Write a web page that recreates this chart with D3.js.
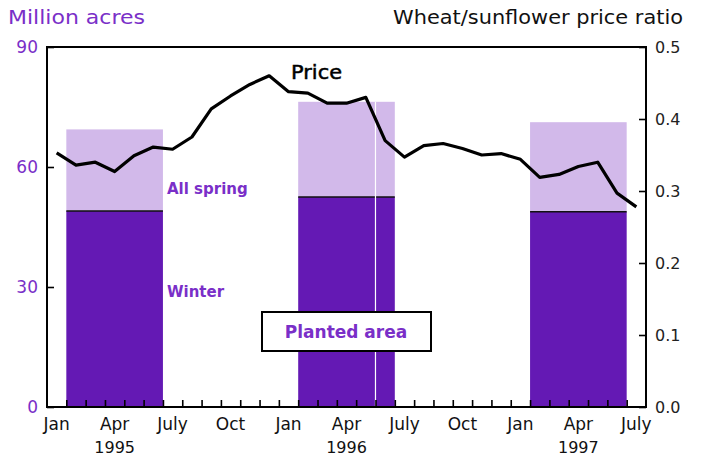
<!DOCTYPE html>
<html>
<head>
<meta charset="utf-8">
<script src="https://cdn.jsdelivr.net/npm/d3@7"></script>
<style>
  body { margin: 0; background: #fff; }
  text { font-family: "DejaVu Sans", sans-serif; }
</style>
</head>
<body>
<svg id="chart" width="701" height="459"></svg>
<script>
// planted area, million acres (winter + all spring = total)
var years = [1995, 1996, 1997]
var winterArea = [49.0, 52.5, 48.8]
var springArea = [20.4, 23.8, 22.4]
// bar spans in month index from Jan 1995 (start, end)
var barStart = [1, 13, 25]
var barEnd = [6, 18, 30]

// wheat/sunflower price ratio, monthly Jan 1995 - Jul 1997
var priceRatio = [0.353, 0.336, 0.340, 0.327, 0.349, 0.361, 0.358, 0.375, 0.414, 0.432, 0.448, 0.460,
                  0.438, 0.436, 0.422, 0.422, 0.430, 0.370, 0.347, 0.363, 0.366, 0.359, 0.350, 0.352,
                  0.344, 0.319, 0.323, 0.334, 0.340, 0.297, 0.278]

var monthLabels = ['Jan', 'Apr', 'July', 'Oct', 'Jan', 'Apr', 'July', 'Oct', 'Jan', 'Apr', 'July']
var leftTicks = [0, 30, 60, 90]
var rightTicks = [0, 0.1, 0.2, 0.3, 0.4, 0.5]

var darkPurple = '#6419b4'
var lightPurple = '#d2b9ea'
var labelPurple = '#7a2fc8'

var svg = d3.select('#chart')
var pLeft = 47, pRight = 646, pTop = 47, pBottom = 407

var x = d3.scaleLinear().domain([0, 31]).range([pLeft, pRight])
var yL = d3.scaleLinear().domain([0, 90]).range([pBottom, pTop])
var yR = d3.scaleLinear().domain([0, 0.5]).range([pBottom, pTop])

// bars
var bars = years.map(function(y, i){
	return {year: y, s: barStart[i], e: barEnd[i], w: winterArea[i], sp: springArea[i]}
})

svg.selectAll('.spring')
  .data(bars)
  .enter()
  .append('rect')
  .attr('class', 'spring')
  .attr('x', function(d){ return x(d.s) })
  .attr('width', function(d){ return x(d.e) - x(d.s) })
  .attr('y', function(d){ return yL(d.w + d.sp) })
  .attr('height', function(d){ return yL(d.w) - yL(d.w + d.sp) })
  .style('fill', lightPurple)

svg.selectAll('.winter')
  .data(bars)
  .enter()
  .append('rect')
  .attr('class', 'winter')
  .attr('x', function(d){ return x(d.s) })
  .attr('width', function(d){ return x(d.e) - x(d.s) })
  .attr('y', function(d){ return yL(d.w) })
  .attr('height', function(d){ return yL(0) - yL(d.w) })
  .style('fill', darkPurple)

svg.selectAll('.winterline')
  .data(bars)
  .enter()
  .append('line')
  .attr('x1', function(d){ return x(d.s) })
  .attr('x2', function(d){ return x(d.e) })
  .attr('y1', function(d){ return yL(d.w) })
  .attr('y2', function(d){ return yL(d.w) })
  .style('stroke', '#111')
  .style('stroke-width', 1.5)

// thin white split in the 1996 bar
svg.append('line')
  .attr('x1', x(17)).attr('x2', x(17))
  .attr('y1', yL(winterArea[1] + springArea[1])).attr('y2', yL(0))
  .style('stroke', '#fff')
  .style('stroke-width', 1.2)

// price line
var line = d3.line()
  .x(function(d, i){ return x(i + 0.5) })
  .y(function(d){ return yR(d) })

svg.append('path')
  .datum(priceRatio)
  .attr('d', line)
  .style('fill', 'none')
  .style('stroke', '#000')
  .style('stroke-width', 3.2)
  .style('stroke-linejoin', 'round')

// frame
svg.append('rect')
  .attr('x', pLeft).attr('y', pTop)
  .attr('width', pRight - pLeft).attr('height', pBottom - pTop)
  .style('fill', 'none')
  .style('stroke', '#000')
  .style('stroke-width', 2)

// axes (ticks pointing inward)
var axL = d3.axisRight(yL).tickValues(leftTicks).tickSize(7).tickFormat('')
svg.append('g').attr('transform', 'translate(' + pLeft + ',0)').call(axL)

var axR = d3.axisLeft(yR).tickValues(rightTicks).tickSize(7).tickFormat('')
svg.append('g').attr('transform', 'translate(' + pRight + ',0)').call(axR)

var axB = d3.axisTop(x).tickValues(d3.range(1, 31)).tickSize(7).tickFormat('')
svg.append('g').attr('transform', 'translate(0,' + pBottom + ')').call(axB)

svg.selectAll('.domain').remove()
svg.selectAll('.tick line').style('stroke', '#000').style('stroke-width', 1.6)

// tick labels
svg.selectAll('.lLabel')
  .data(leftTicks)
  .enter()
  .append('text')
  .attr('x', 38)
  .attr('y', function(d){ return yL(d) + 6 })
  .attr('text-anchor', 'end')
  .style('font-size', '17px')
  .style('fill', labelPurple)
  .text(function(d){ return d })

svg.selectAll('.rLabel')
  .data(rightTicks)
  .enter()
  .append('text')
  .attr('x', 655)
  .attr('y', function(d){ return yR(d) + 6 })
  .style('font-size', '16px')
  .style('fill', '#222')
  .text(function(d){ return d.toFixed(1) })

svg.selectAll('.mLabel')
  .data(monthLabels)
  .enter()
  .append('text')
  .attr('x', function(d, i){ return x(i * 3 + 0.5) })
  .attr('y', 430)
  .attr('text-anchor', 'middle')
  .style('font-size', '17px')
  .style('fill', '#111')
  .text(function(d){ return d })

svg.selectAll('.yLabel')
  .data(years)
  .enter()
  .append('text')
  .attr('x', function(d, i){ return x(i * 12 + 3.5) })
  .attr('y', 453)
  .attr('text-anchor', 'middle')
  .style('font-size', '16px')
  .style('fill', '#111')
  .text(function(d){ return d })

// titles
svg.append('text')
  .attr('x', 8).attr('y', 24)
  .attr('textLength', 137)
  .attr('lengthAdjust', 'spacingAndGlyphs')
  .style('font-size', '20px')
  .style('fill', labelPurple)
  .text('Million acres')

svg.append('text')
  .attr('x', 393).attr('y', 24)
  .attr('textLength', 290)
  .attr('lengthAdjust', 'spacingAndGlyphs')
  .style('font-size', '19px')
  .style('fill', '#111')
  .text('Wheat/sunflower price ratio')

// annotations
svg.append('text')
  .attr('x', 291).attr('y', 79)
  .attr('textLength', 51)
  .attr('lengthAdjust', 'spacingAndGlyphs')
  .style('font-size', '20px')
  .style('fill', '#000')
  .style('stroke', '#000')
  .style('stroke-width', 0.5)
  .text('Price')

svg.append('text')
  .attr('x', 167).attr('y', 194)
  .style('font-size', '15px')
  .style('font-weight', 'bold')
  .style('fill', labelPurple)
  .text('All spring')

svg.append('text')
  .attr('x', 167).attr('y', 297)
  .style('font-size', '15px')
  .style('font-weight', 'bold')
  .style('fill', labelPurple)
  .text('Winter')

// legend box
svg.append('rect')
  .attr('x', 262).attr('y', 312)
  .attr('width', 169).attr('height', 39)
  .style('fill', '#fff')
  .style('stroke', '#000')
  .style('stroke-width', 2)

svg.append('text')
  .attr('x', 346).attr('y', 338)
  .attr('text-anchor', 'middle')
  .style('font-size', '17px')
  .style('font-weight', 'bold')
  .style('fill', labelPurple)
  .text('Planted area')
</script>
</body>
</html>
